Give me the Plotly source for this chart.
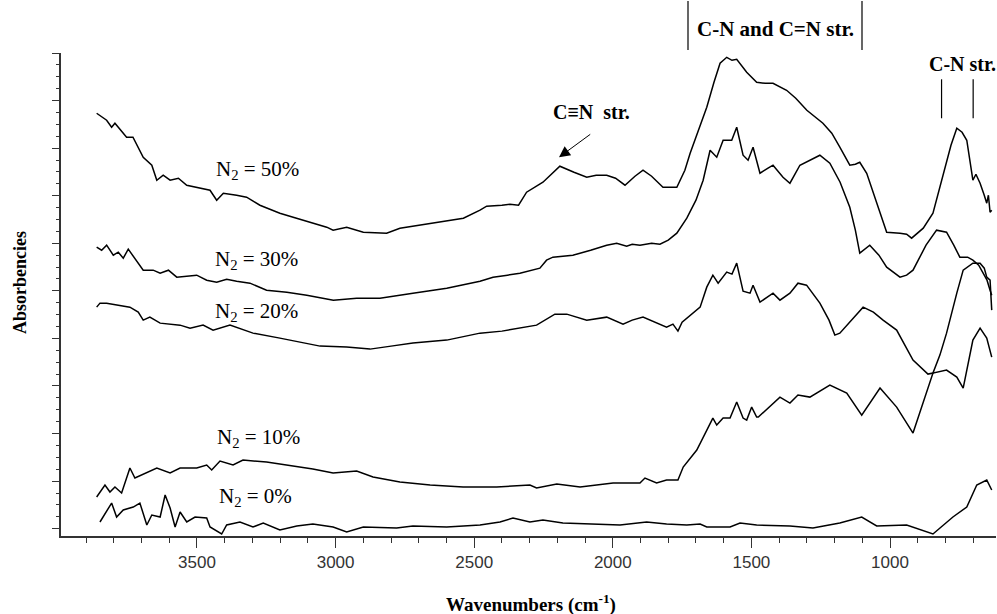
import plotly.graph_objects as go

# ---- data (wavenumber in cm-1, absorbance in arbitrary units) ----
w50 = [3862, 3826, 3808, 3796, 3754, 3731, 3694, 3663, 3645, 3622, 3597, 3567, 3537, 3501, 3453, 3429,
       3405, 3357, 3321, 3273, 3201, 3153, 3082, 3032, 3009, 2960, 2900, 2816, 2768, 2696, 2623, 2539,
       2479, 2455, 2400, 2371, 2340, 2311, 2252, 2191, 2140, 2094, 2060, 2022, 1990, 1956, 1920, 1891,
       1860, 1819, 1769, 1740, 1721, 1690, 1661, 1635, 1613, 1589, 1570, 1553, 1517, 1481, 1450, 1422,
       1373, 1340, 1300, 1242, 1210, 1181, 1145, 1125, 1109, 1084, 1050, 1012, 964, 940, 922, 880, 845,
       808, 780, 759, 740, 723, 701, 690, 675, 660, 651, 645, 639, 633]
a50 = [4.37, 4.30, 4.23, 4.27, 4.13, 4.13, 3.93, 3.85, 3.70, 3.75, 3.70, 3.72, 3.65, 3.63, 3.60, 3.50,
       3.57, 3.55, 3.53, 3.45, 3.37, 3.33, 3.27, 3.23, 3.20, 3.23, 3.18, 3.17, 3.22, 3.25, 3.28, 3.32,
       3.40, 3.44, 3.45, 3.46, 3.45, 3.58, 3.68, 3.84, 3.78, 3.73, 3.75, 3.75, 3.72, 3.65, 3.74, 3.80,
       3.74, 3.63, 3.63, 3.80, 3.97, 4.20, 4.43, 4.68, 4.87, 4.93, 4.90, 4.91, 4.78, 4.68, 4.67, 4.67,
       4.60, 4.52, 4.40, 4.27, 4.17, 4.03, 3.85, 3.86, 3.88, 3.77, 3.48, 3.18, 3.17, 3.16, 3.12, 3.22, 3.37,
       3.77, 4.05, 4.22, 4.18, 4.10, 3.70, 3.76, 3.67, 3.55, 3.47, 3.55, 3.38, 3.40]

w30 = [3862, 3844, 3826, 3802, 3784, 3766, 3748, 3718, 3694, 3658, 3633, 3603, 3573, 3501, 3465, 3429,
       3393, 3357, 3309, 3249, 3176, 3104, 3008, 2924, 2840, 2721, 2599, 2479, 2432, 2380, 2335, 2263,
       2239, 2216, 2144, 2080, 2022, 1986, 1950, 1930, 1902, 1860, 1830, 1800, 1769, 1733, 1700, 1674,
       1649, 1625, 1602, 1571, 1553, 1530, 1512, 1494, 1469, 1440, 1422, 1386, 1361, 1325, 1290, 1253,
       1217, 1180, 1145, 1125, 1109, 1073, 1040, 1012, 964, 940, 917, 870, 832, 796, 770, 748, 720, 701,
       680, 665, 650, 639, 633]
a30 = [3.03, 3.00, 3.05, 2.95, 2.98, 2.92, 3.01, 2.90, 2.80, 2.80, 2.77, 2.80, 2.73, 2.75, 2.70, 2.68,
       2.71, 2.69, 2.67, 2.60, 2.58, 2.55, 2.50, 2.52, 2.52, 2.57, 2.62, 2.69, 2.73, 2.75, 2.77, 2.82,
       2.90, 2.93, 2.95, 3.00, 3.05, 3.07, 3.04, 3.06, 3.05, 3.07, 3.06, 3.10, 3.17, 3.32, 3.50, 3.70,
       4.00, 3.93, 4.10, 4.10, 4.23, 3.95, 3.90, 4.03, 3.77, 3.82, 3.85, 3.73, 3.67, 3.85, 3.90, 3.95,
       3.87, 3.68, 3.43, 3.20, 2.97, 3.05, 2.95, 2.83, 2.73, 2.75, 2.80, 3.05, 3.20, 3.18, 3.05, 2.93, 2.93, 2.90,
       2.85, 2.77, 2.70, 2.60, 2.55]

w20 = [3862, 3850, 3826, 3790, 3742, 3712, 3694, 3670, 3633, 3561, 3525, 3478, 3442, 3381, 3298, 3201,
       3056, 2960, 2876, 2800, 2721, 2599, 2479, 2400, 2335, 2275, 2209, 2166, 2094, 2022, 1963, 1930,
       1891, 1850, 1806, 1783, 1765, 1750, 1733, 1685, 1661, 1639, 1620, 1589, 1570, 1553, 1530, 1505,
       1494, 1469, 1422, 1397, 1361, 1332, 1301, 1253, 1220, 1199, 1181, 1140, 1097, 1060, 1025, 976,
       917, 863, 845, 820, 796, 759, 736, 701, 675, 660, 651, 639, 633]
a20 = [2.43, 2.47, 2.47, 2.45, 2.43, 2.38, 2.30, 2.33, 2.27, 2.25, 2.22, 2.25, 2.20, 2.25, 2.17, 2.12,
       2.04, 2.03, 2.01, 2.04, 2.07, 2.10, 2.17, 2.19, 2.22, 2.25, 2.36, 2.36, 2.30, 2.33, 2.26, 2.30,
       2.33, 2.28, 2.23, 2.26, 2.19, 2.28, 2.32, 2.43, 2.63, 2.75, 2.67, 2.78, 2.76, 2.87, 2.59, 2.57,
       2.65, 2.48, 2.57, 2.50, 2.57, 2.67, 2.65, 2.47, 2.30, 2.15, 2.17, 2.30, 2.43, 2.38, 2.30, 2.20,
       1.90, 1.76, 1.77, 1.95, 2.17, 2.57, 2.80, 2.87, 2.87, 2.82, 2.73, 2.70, 2.40]

w10 = [3862, 3832, 3814, 3796, 3772, 3742, 3724, 3645, 3597, 3561, 3501, 3465, 3447, 3417, 3370, 3334,
       3249, 3176, 3082, 3009, 2924, 2865, 2768, 2659, 2540, 2419, 2299, 2275, 2202, 2118, 1999, 1902,
       1884, 1842, 1806, 1765, 1746, 1697, 1661, 1639, 1625, 1602, 1577, 1553, 1530, 1517, 1499, 1481,
       1475, 1422, 1397, 1361, 1332, 1289, 1217, 1156, 1102, 1036, 976, 917, 845, 796, 759, 736, 701,
       675, 651, 633]
a10 = [0.53, 0.65, 0.58, 0.63, 0.57, 0.82, 0.72, 0.82, 0.77, 0.82, 0.82, 0.85, 0.80, 0.89, 0.85, 0.90,
       0.88, 0.85, 0.81, 0.77, 0.79, 0.73, 0.68, 0.65, 0.63, 0.63, 0.65, 0.62, 0.66, 0.63, 0.67, 0.67,
       0.72, 0.67, 0.70, 0.70, 0.83, 1.00, 1.20, 1.32, 1.25, 1.32, 1.32, 1.48, 1.32, 1.30, 1.43, 1.33,
       1.33, 1.47, 1.53, 1.47, 1.55, 1.53, 1.65, 1.57, 1.35, 1.62, 1.43, 1.17, 1.77, 1.80, 1.73, 1.62, 2.10,
       2.22, 2.12, 1.93]

w0 = [3850, 3808, 3790, 3766, 3730, 3706, 3681, 3663, 3633, 3615, 3597, 3579, 3561, 3537, 3507, 3465,
      3453, 3411, 3393, 3345, 3298, 3261, 3201, 3140, 3082, 3009, 2960, 2900, 2780, 2721, 2599, 2479,
      2407, 2360, 2299, 2252, 2180, 2082, 1974, 1878, 1806, 1733, 1685, 1661, 1577, 1541, 1481, 1361,
      1278, 1181, 1102, 1048, 940, 845, 773, 723, 687, 651, 633]
a0 = [0.28, 0.47, 0.33, 0.40, 0.43, 0.47, 0.25, 0.35, 0.33, 0.55, 0.42, 0.23, 0.38, 0.28, 0.33, 0.32,
      0.23, 0.16, 0.25, 0.28, 0.23, 0.27, 0.20, 0.24, 0.26, 0.23, 0.18, 0.23, 0.22, 0.24, 0.23, 0.25,
      0.28, 0.32, 0.28, 0.30, 0.27, 0.26, 0.25, 0.28, 0.26, 0.25, 0.26, 0.23, 0.23, 0.27, 0.25, 0.24,
      0.22, 0.27, 0.33, 0.24, 0.25, 0.16, 0.33, 0.43, 0.65, 0.70, 0.60]

series = [("N2 = 50%", w50, a50), ("N2 = 30%", w30, a30), ("N2 = 20%", w20, a20),
          ("N2 = 10%", w10, a10), ("N2 = 0%", w0, a0)]

# curve labels: (text, wavenumber, absorbance)
curve_labels = [("N<sub>2</sub> = 50%", 3282, 3.80), ("N<sub>2</sub> = 30%", 3285, 2.90),
                ("N<sub>2</sub> = 20%", 3285, 2.38), ("N<sub>2</sub> = 10%", 3278, 1.12),
                ("N<sub>2</sub> = 0%", 3289, 0.53)]

x_tickvals = [3500, 3000, 2500, 2000, 1500, 1000]

# plot area in pixels (for paper-referenced decorations outside the axes)
L, R, T, B = 61, 996, 53, 536
def px(xp):
    return (xp - L) / (R - L)
def py(yp):
    return (B - yp) / (B - T)

fig = go.Figure()
for name, w, a in series:
    fig.add_trace(go.Scatter(x=w, y=a, mode="lines", name=name,
                             line=dict(color="black", width=1.5), showlegend=False))

serif = "Liberation Serif, Times New Roman, serif"
for txt, xv, yv in curve_labels:
    fig.add_annotation(x=xv, y=yv, text=txt, showarrow=False, xanchor="center", yanchor="middle",
                       font=dict(family=serif, size=21, color="black"))

# band annotations
fig.add_annotation(x=px(775), y=py(29), xref="paper", yref="paper",
                   text="<b>C-N and C=N str.</b>", showarrow=False, xanchor="center", yanchor="middle",
                   font=dict(family=serif, size=21, color="black"))
for xp in [688, 862]:
    fig.add_shape(type="line", x0=px(xp), x1=px(xp), y0=py(50), y1=py(1), xref="paper", yref="paper",
                  line=dict(color="black", width=1.2))
fig.add_annotation(x=px(962), y=py(64), xref="paper", yref="paper",
                   text="<b>C-N str.</b>", showarrow=False, xanchor="center", yanchor="middle",
                   font=dict(family=serif, size=20, color="black"))
for xv in [814, 700]:
    fig.add_shape(type="line", x0=xv, x1=xv, y0=4.32, y1=4.71, xref="x", yref="y",
                  line=dict(color="black", width=1.2))
fig.add_annotation(x=2077, y=4.38, text="<b>C≡N  str.</b>", showarrow=False,
                   xanchor="center", yanchor="middle",
                   font=dict(family=serif, size=20, color="black"))
fig.add_annotation(x=2194, y=3.93, ax=2076, ay=4.17, axref="x", ayref="y", xref="x", yref="y",
                   text="", showarrow=True, arrowhead=2, arrowsize=2.2, arrowwidth=1,
                   arrowcolor="black")

# axis titles
fig.add_annotation(x=px(531), y=py(603), xref="paper", yref="paper",
                   text="<b>Wavenumbers (cm<sup>-1</sup>)</b>", showarrow=False,
                   xanchor="center", yanchor="middle",
                   font=dict(family=serif, size=19, color="black"))
fig.add_annotation(x=px(20), y=py(283), xref="paper", yref="paper", textangle=-90,
                   text="<b>Absorbencies</b>", showarrow=False, xanchor="center", yanchor="middle",
                   font=dict(family=serif, size=18, color="black"))

fig.update_layout(
    width=997, height=614,
    margin=dict(l=L, r=997 - R, t=T, b=614 - B),
    plot_bgcolor="white", paper_bgcolor="white",
    xaxis=dict(range=[3990.6, 617.6], tickvals=x_tickvals, ticks="outside", ticklen=10,
               tickcolor="#333", tickwidth=1.3, showline=True, linecolor="#333", linewidth=1.5,
               showgrid=False, zeroline=False,
               tickfont=dict(family="Liberation Sans, Arial, sans-serif", size=17, color="#333"),
               minor=dict(dtick=100, tick0=0, ticks="outside", ticklen=5, tickcolor="#333",
                          tickwidth=1.3, showgrid=False)),
    yaxis=dict(range=[0.14, 4.973], tick0=0.213, dtick=0.476, ticks="outside", ticklen=7,
               tickcolor="#333", tickwidth=1.3, showticklabels=False, showline=True,
               linecolor="#333", linewidth=1.5, showgrid=False, zeroline=False,
               minor=dict(dtick=0.119, tick0=0.213, ticks="outside", ticklen=3.5, tickcolor="#333",
                          tickwidth=1.3, showgrid=False)),
)

fig.write_html("out.html")
